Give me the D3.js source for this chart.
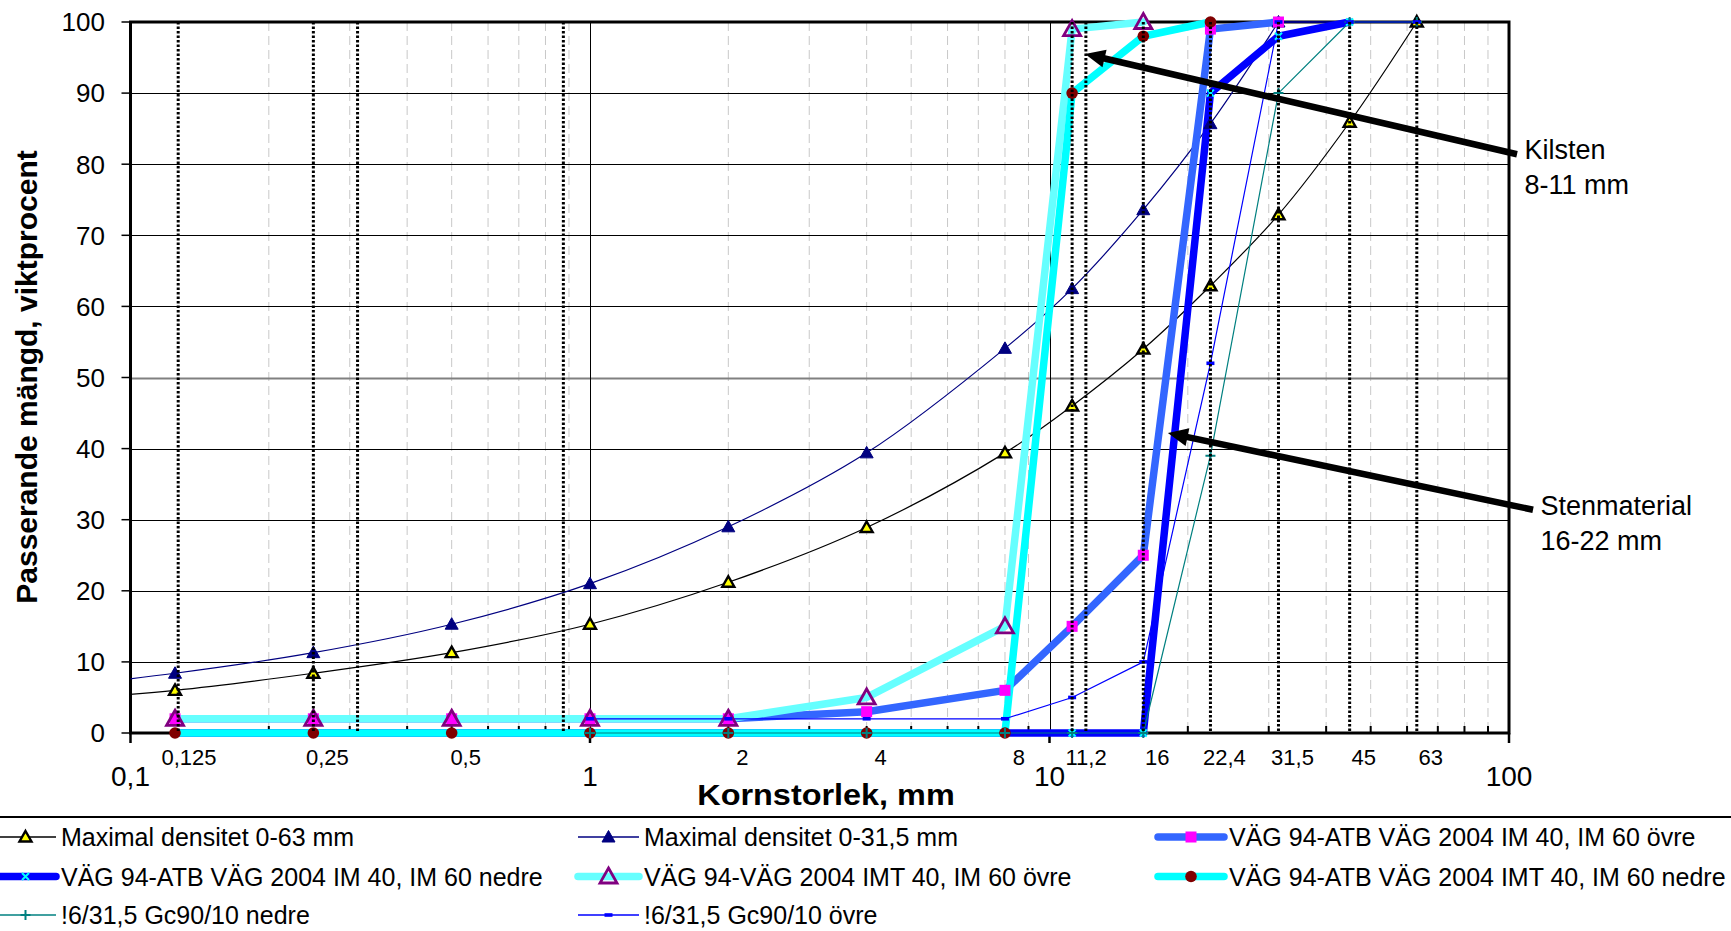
<!DOCTYPE html>
<html><head><meta charset="utf-8">
<script src="https://cdn.jsdelivr.net/npm/d3@7"></script>
<style>
body{margin:0;background:#fff;}
svg{display:block;}
text{font-family:"Liberation Sans",Arial,sans-serif;fill:#000;}
</style>
</head><body>
<svg id="c" width="1731" height="931"></svg>
<script>
// ---------------- DATA ----------------
const sieves = [0.063, 0.125, 0.25, 0.5, 1, 2, 4, 8, 11.2, 16, 22.4, 31.5, 45, 63];
const maxDens63   = [4.5, 6, 8.4, 11.3, 15.3, 21.2, 28.9, 39.4, 46, 54, 62.9, 72.9, 85.9, 100];
const maxDens31_5 = [6.2, 8.4, 11.3, 15.3, 21.0, 29.0, 39.4, 54.1, 62.5, 73.6, 85.7, 100, null, null];
const imOvre      = [null, 2, 2, 2, 2, 2, 3, 6, 15, 25, 99, 100, null, null];
const imNedre     = [null, 0, 0, 0, 0, 0, 0, 0, 0, 0, 90, 98, 100, null];
const imtOvre     = [null, 2, 2, 2, 2, 2, 5, 15, 99, 100, null, null, null, null];
const imtNedre    = [null, 0, 0, 0, 0, 0, 0, 0, 90, 98, 100, null, null, null];
const gcNedre     = [null, null, null, null, 0, 0, 0, 0, 0, 0, 39, 90, 100, 100];
const gcOvre      = [null, null, null, null, 2, 2, 2, 2, 5, 10, 52, 100, 100, 100];

const seriesNames = [
  "Maximal densitet 0-63 mm",
  "Maximal densitet 0-31,5 mm",
  "VÄG 94-ATB VÄG 2004 IM 40, IM 60 övre",
  "VÄG 94-ATB VÄG 2004 IM 40, IM 60 nedre",
  "VÄG 94-VÄG 2004 IMT 40, IM 60 övre",
  "VÄG 94-ATB VÄG 2004 IMT 40, IM 60 nedre",
  "!6/31,5 Gc90/10 nedre",
  "!6/31,5 Gc90/10 övre"
];

const yTicks = [0, 10, 20, 30, 40, 50, 60, 70, 80, 90, 100];
const xDecades = [0.1, 1, 10, 100];
const xDecadeLabels = ["0,1", "1", "10", "100"];
const sieveLabelValues = [0.125, 0.25, 0.5, 2, 4, 8, 11.2, 16, 22.4, 31.5, 45, 63];
const sieveLabels = ["0,125", "0,25", "0,5", "2", "4", "8", "11,2", "16", "22,4", "31,5", "45", "63"];
const dottedSieveLines = [0.127, 0.25, 0.312, 0.875, 11.2, 12.0, 16, 22.4, 31.5, 45, 63];

const annotationText = [["Kilsten", "8-11 mm"], ["Stenmaterial", "16-22 mm"]];
const annotationTip = [[11.95, 95.5], [18.1, 42.2]];
const annotationTail = [[104.1, 81.4], [112.8, 31.4]];

// ---------------- STYLE ----------------
const styles = [
  {values: maxDens63,   color: "#000000", width: 1.2, smooth: true,  marker: "triY"},
  {values: maxDens31_5, color: "#000080", width: 1.2, smooth: true,  marker: "triN"},
  {values: imOvre,      color: "#3366FF", width: 7.5, smooth: false, marker: "sq"},
  {values: imNedre,     color: "#0000FF", width: 7.5, smooth: false, marker: "x"},
  {values: imtOvre,     color: "#66FFFF", width: 7.5, smooth: false, marker: "triH"},
  {values: imtNedre,    color: "#00FFFF", width: 7.5, smooth: false, marker: "circ"},
  {values: gcNedre,     color: "#008080", width: 1.2, smooth: false, marker: "plus"},
  {values: gcOvre,      color: "#0000FF", width: 1.2, smooth: false, marker: "dash"}
];

const W = 1731, H = 931;
const plot = {left: 130.5, right: 1509, top: 22, bottom: 733};
const x = d3.scaleLog().domain([0.1, 100]).range([plot.left, plot.right]);
const y = d3.scaleLinear().domain([0, 100]).range([plot.bottom, plot.top]);
const svg = d3.select("#c");

svg.append("defs").append("clipPath").attr("id", "clipL")
  .append("rect").attr("x", plot.left).attr("y", 0).attr("width", W - plot.left).attr("height", H);

// minor vertical gridlines (dashed gray)
const allLogTicks = x.ticks();
const minorTicks = allLogTicks.filter(v => !xDecades.some(d => Math.abs(d - v) < 1e-9));
svg.append("g").selectAll("line").data(minorTicks).join("line")
  .attr("x1", d => x(d)).attr("x2", d => x(d))
  .attr("y1", plot.top).attr("y2", plot.bottom)
  .attr("stroke", "#c8c8c8").attr("stroke-width", 1).attr("stroke-dasharray", "9,5");

// horizontal gridlines
svg.append("g").selectAll("line").data(yTicks.filter(v => v > 0 && v < 100)).join("line")
  .attr("x1", plot.left).attr("x2", plot.right)
  .attr("y1", d => Math.round(y(d)) + 0.5).attr("y2", d => Math.round(y(d)) + 0.5)
  .attr("stroke", d => d === 50 ? "#808080" : "#000").attr("stroke-width", d => d === 50 ? 2 : 1);

// major vertical gridlines
svg.append("g").selectAll("line").data([1, 10]).join("line")
  .attr("x1", d => Math.round(x(d)) + 0.5).attr("x2", d => Math.round(x(d)) + 0.5)
  .attr("y1", plot.top).attr("y2", plot.bottom)
  .attr("stroke", "#000").attr("stroke-width", 1);

// border / axes
svg.append("rect").attr("x", plot.left).attr("y", plot.top)
  .attr("width", plot.right - plot.left).attr("height", plot.bottom - plot.top)
  .attr("fill", "none").attr("stroke", "#000").attr("stroke-width", 3);

// y ticks
svg.append("g").selectAll("line").data(yTicks).join("line")
  .attr("x1", plot.left - 9).attr("x2", plot.left)
  .attr("y1", d => y(d)).attr("y2", d => y(d))
  .attr("stroke", "#000").attr("stroke-width", 1.5);
svg.append("g").selectAll("text").data(yTicks).join("text")
  .attr("x", 105).attr("y", d => y(d)).attr("dy", "0.36em")
  .attr("text-anchor", "end").attr("font-size", 26).text(d => d);

// x ticks: minor inward, major outward
svg.append("g").selectAll("line").data(minorTicks).join("line")
  .attr("x1", d => x(d)).attr("x2", d => x(d))
  .attr("y1", plot.bottom - 7).attr("y2", plot.bottom)
  .attr("stroke", "#000").attr("stroke-width", 2);
svg.append("g").selectAll("line").data(xDecades).join("line")
  .attr("x1", d => x(d)).attr("x2", d => x(d))
  .attr("y1", plot.bottom).attr("y2", plot.bottom + 10)
  .attr("stroke", "#000").attr("stroke-width", 2.5);
svg.append("g").selectAll("text").data(xDecades).join("text")
  .attr("x", d => x(d)).attr("y", 786)
  .attr("text-anchor", "middle").attr("font-size", 28)
  .text((d, i) => xDecadeLabels[i]);
svg.append("g").selectAll("text").data(sieveLabelValues).join("text")
  .attr("x", d => x(d) + 14).attr("y", 765)
  .attr("text-anchor", "middle").attr("font-size", 22)
  .text((d, i) => sieveLabels[i]);

// axis titles
svg.append("text").attr("transform", "translate(826,805) scale(1.08,1)")
  .attr("text-anchor", "middle").attr("font-size", 30).attr("font-weight", "bold")
  .text("Kornstorlek, mm");
svg.append("text").attr("transform", "translate(37,377) rotate(-90)")
  .attr("text-anchor", "middle").attr("font-size", 30).attr("font-weight", "bold")
  .text("Passerande mängd, viktprocent");

// series lines
const linesG = svg.append("g").attr("clip-path", "url(#clipL)");
styles.forEach(s => {
  const pts = sieves.map((v, i) => ({x: v, v: s.values[i]})).filter(p => p.v !== null);
  const gen = d3.line().x(p => x(p.x)).y(p => y(p.v))
    .curve(s.smooth ? d3.curveCatmullRom.alpha(0.5) : d3.curveLinear);
  linesG.append("path").attr("d", gen(pts))
    .attr("fill", "none").attr("stroke", s.color).attr("stroke-width", s.width)
    .attr("stroke-linejoin", "round").attr("stroke-linecap", s.width > 3 ? "round" : "butt");
});

function drawMarker(g, type, cx, cy) {
  const t = g.append("g").attr("transform", `translate(${cx},${cy})`);
  switch (type) {
    case "triY":
      t.append("path").attr("d", "M0,-6L6,4.5L-6,4.5Z").attr("fill", "#ffff00")
        .attr("stroke", "#000").attr("stroke-width", 2.4); break;
    case "triN":
      t.append("path").attr("d", "M0,-6.5L6.5,5L-6.5,5Z").attr("fill", "#000080")
        .attr("stroke", "#000080").attr("stroke-width", 1); break;
    case "sq":
      t.append("rect").attr("x", -5.5).attr("y", -5.5).attr("width", 11).attr("height", 11)
        .attr("fill", "#ff00ff"); break;
    case "x":
      t.append("path").attr("d", "M-3.5,-3.5L3.5,3.5M-3.5,3.5L3.5,-3.5")
        .attr("stroke", "#00ffff").attr("stroke-width", 2); break;
    case "triH":
      t.append("path").attr("d", "M0,-8.5L8.5,6.5L-8.5,6.5Z").attr("fill", "none")
        .attr("stroke", "#800080").attr("stroke-width", 2.8); break;
    case "circ":
      t.append("circle").attr("r", 5.8).attr("fill", "#800000"); break;
    case "plus":
      t.append("path").attr("d", "M-5,0H5M0,-5V5")
        .attr("stroke", "#008080").attr("stroke-width", 2); break;
    case "dash":
      t.append("rect").attr("x", -4).attr("y", -1.8).attr("width", 8).attr("height", 3.6)
        .attr("fill", "#0000ff"); break;
  }
}

// markers
const markG = svg.append("g");
styles.forEach(s => {
  sieves.forEach((v, i) => {
    if (s.values[i] === null || v < 0.1) return;
    drawMarker(markG, s.marker, x(v), y(s.values[i]));
  });
});

// dotted sieve lines (drawn on top)
svg.append("g").selectAll("line").data(dottedSieveLines).join("line")
  .attr("x1", d => x(d)).attr("x2", d => x(d))
  .attr("y1", plot.top).attr("y2", plot.bottom)
  .attr("stroke", "#000").attr("stroke-width", 3).attr("stroke-dasharray", "2.5,2");

// annotations
annotationText.forEach((lines, i) => {
  const tx = x(annotationTip[i][0]), ty = y(annotationTip[i][1]);
  const sx = x(annotationTail[i][0]), sy = y(annotationTail[i][1]);
  const dx = sx - tx, dy = sy - ty, len = Math.hypot(dx, dy);
  const ux = dx / len, uy = dy / len, px = -uy, py = ux;
  const hl = 20, hw = 9;
  const bx = tx + ux * hl, by = ty + uy * hl;
  svg.append("line").attr("x1", sx).attr("y1", sy).attr("x2", bx - ux * 1).attr("y2", by - uy * 1)
    .attr("stroke", "#000").attr("stroke-width", 6.5);
  svg.append("path")
    .attr("d", `M${tx},${ty}L${bx + px * hw},${by + py * hw}L${bx - px * hw},${by - py * hw}Z`)
    .attr("fill", "#000");
  lines.forEach((t, j) => {
    svg.append("text").attr("x", sx + 7.5).attr("y", sy + 5 + j * 35)
      .attr("font-size", 27).text(t);
  });
});

// legend
svg.append("line").attr("x1", 0).attr("x2", W).attr("y1", 817).attr("y2", 817)
  .attr("stroke", "#000").attr("stroke-width", 2);
const legStart = [-5, 578, 1158], legEnd = [56, 639, 1224], legRow = [837, 876.5, 915];
styles.forEach((s, i) => {
  const col = i % 3, row = Math.floor(i / 3);
  const g = svg.append("g");
  g.append("line").attr("x1", legStart[col]).attr("x2", legEnd[col])
    .attr("y1", legRow[row]).attr("y2", legRow[row])
    .attr("stroke", s.color).attr("stroke-width", s.width > 3 ? 7.5 : 1.5)
    .attr("stroke-linecap", s.width > 3 ? "round" : "butt");
  drawMarker(g, s.marker, (legStart[col] + legEnd[col]) / 2, legRow[row]);
  g.append("text").attr("x", legEnd[col] + 5).attr("y", legRow[row]).attr("dy", "0.36em")
    .attr("font-size", 25).text(seriesNames[i]);
});
</script>
</body></html>
